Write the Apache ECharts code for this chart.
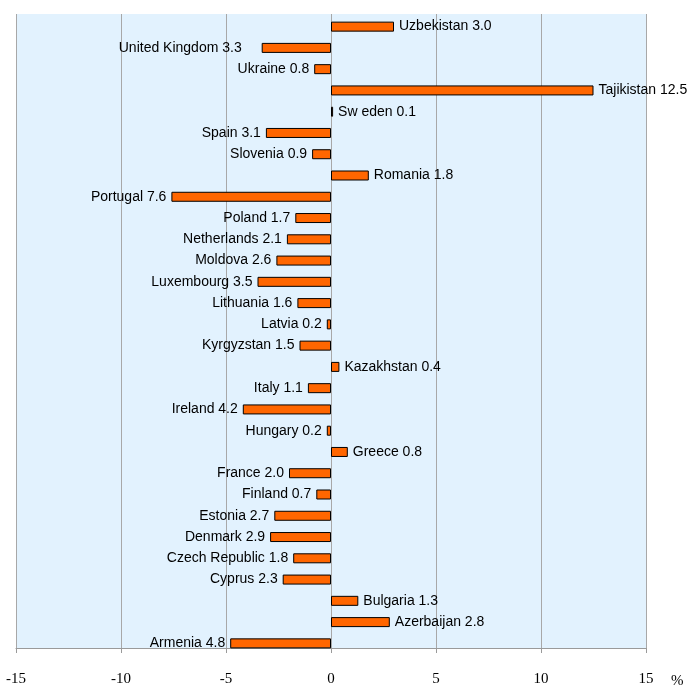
<!DOCTYPE html>
<html>
<head>
<meta charset="utf-8">
<script src="https://cdn.jsdelivr.net/npm/echarts@6/dist/echarts.min.js"></script>
<style>
  html, body { margin: 0; padding: 0; background: #ffffff; }
  #chart { width: 692px; height: 687px; }
</style>
</head>
<body>
<div id="chart"></div>
<script>
// Countries from the bottom of the chart to the top
const countries = [
  'Armenia', 'Azerbaijan', 'Bulgaria', 'Cyprus', 'Czech Republic', 'Denmark',
  'Estonia', 'Finland', 'France', 'Greece', 'Hungary', 'Ireland', 'Italy',
  'Kazakhstan', 'Kyrgyzstan', 'Latvia', 'Lithuania', 'Luxembourg', 'Moldova',
  'Netherlands', 'Poland', 'Portugal', 'Romania', 'Slovenia', 'Spain',
  'Sw eden', 'Tajikistan', 'Ukraine', 'United Kingdom', 'Uzbekistan'
];

// Change, %
const values = [
  -4.8, 2.8, 1.3, -2.3, -1.8, -2.9,
  -2.7, -0.7, -2.0, 0.8, -0.2, -4.2, -1.1,
  0.4, -1.5, -0.2, -1.6, -3.5, -2.6,
  -2.1, -1.7, -7.6, 1.8, -0.9, -3.1,
  0.1, 12.5, -0.8, -3.3, 3.0
];

const xTicks = { min: -15, max: 15, step: 5 };
const unitLabel = '%';

const chart = echarts.init(document.getElementById('chart'), null, { renderer: 'canvas' });

const seriesData = values.map(function (v, i) {
  const item = {
    value: v,
    label: { position: v >= 0 ? 'right' : 'left' }
  };
  if (countries[i] === 'United Kingdom') item.label.distance = 20;
  return item;
});

const serifFont = '"Liberation Serif", "Times New Roman", serif';

chart.setOption({
  animation: false,
  backgroundColor: '#ffffff',
  // grid 0: plot background, value axis and gridlines; grid 1: the bars
  grid: [
    { left: 16, right: 46, top: 14, bottom: 35, show: true, backgroundColor: '#E2F2FE', borderWidth: 0 },
    { left: 16, right: 46, top: 16, bottom: 33, show: false }
  ],
  xAxis: [{
    gridIndex: 0,
    type: 'value',
    min: xTicks.min, max: xTicks.max, interval: xTicks.step,
    axisLine: { show: true, onZero: false, lineStyle: { color: '#9a9a9a', width: 1 } },
    axisTick: { show: true, inside: false, length: 5, lineStyle: { color: '#9a9a9a' } },
    axisLabel: { margin: 24, color: '#000000', fontFamily: serifFont, fontSize: 15 },
    splitLine: { show: true, lineStyle: { color: '#a8a8a8', width: 1 } }
  }, {
    gridIndex: 1,
    type: 'value',
    min: xTicks.min, max: xTicks.max, interval: xTicks.step,
    show: false
  }],
  yAxis: [{
    gridIndex: 0,
    type: 'category',
    data: countries,
    show: false
  }, {
    gridIndex: 1,
    type: 'category',
    data: countries,
    axisLine: { show: false },
    axisTick: { show: false },
    axisLabel: { show: false },
    splitLine: { show: false }
  }],
  graphic: [{
    type: 'text',
    left: 671, top: 674,
    style: { text: unitLabel, fill: '#000000', font: '15px ' + serifFont }
  }],
  series: [{
    type: 'bar',
    xAxisIndex: 1,
    yAxisIndex: 1,
    data: seriesData,
    barWidth: 10,
    itemStyle: { color: '#FF6600', borderColor: '#000000', borderWidth: 1 },
    label: {
      show: true,
      distance: 5,
      color: '#000000',
      fontFamily: '"Liberation Sans", Arial, sans-serif',
      fontSize: 14,
      formatter: function (p) {
        return p.name + ' ' + Math.abs(p.value).toFixed(1);
      }
    }
  }]
});
</script>
</body>
</html>
